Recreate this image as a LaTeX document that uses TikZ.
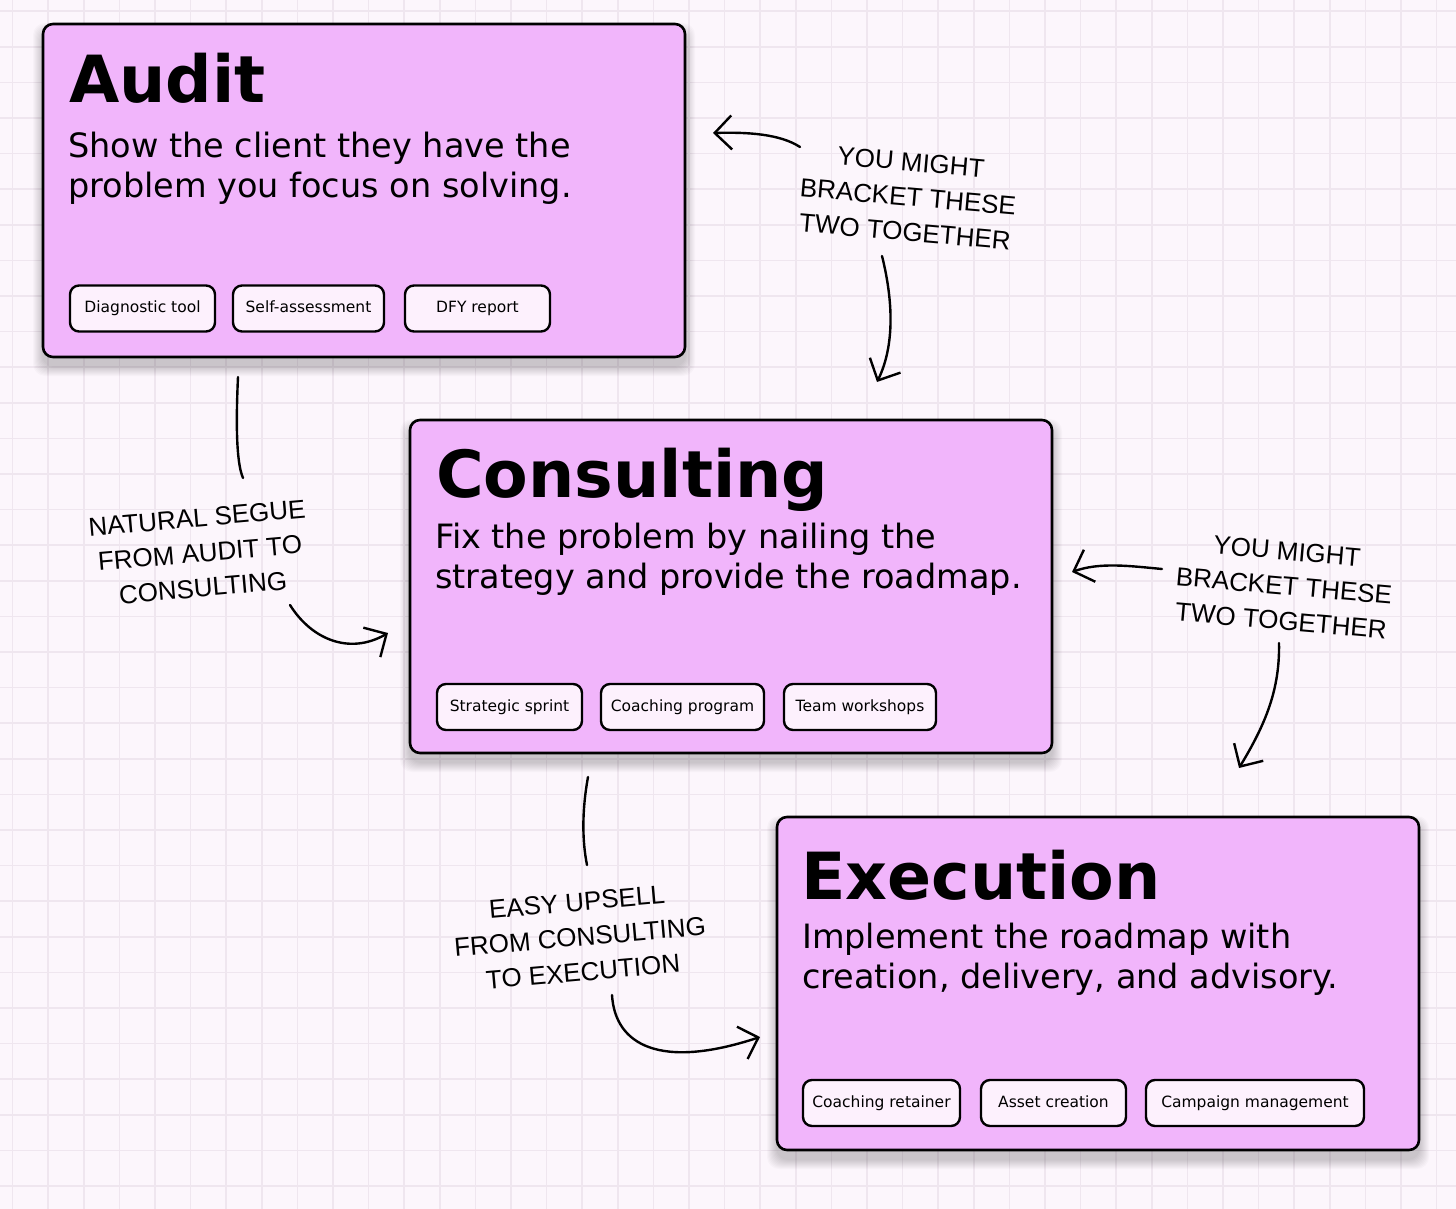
\documentclass[tikz,border=0pt]{standalone}
\usepackage{fontspec}
\setmainfont{DejaVu Sans}
\newfontfamily\notefont{Liberation Sans}
\usetikzlibrary{arrows.meta}
\definecolor{paper}{HTML}{FCF6FC}
\definecolor{gridline}{HTML}{EFE6EF}
\definecolor{cardpink}{HTML}{F1B5FB}
\definecolor{pillpink}{HTML}{FDF1FD}

\begin{document}
\begin{tikzpicture}[x=1pt,y=-1pt]
\tikzstyle{card}=[rectangle,draw=black,line width=2.6pt,rounded corners=10pt,fill=cardpink,minimum width=642pt,minimum height=333pt]
\tikzstyle{heading}=[anchor=base west,inner sep=0pt,font=\bfseries\fontsize{65}{65}\selectfont]
\tikzstyle{blurb}=[anchor=north west,inner sep=0pt,align=left,font=\fontsize{33.5}{40}\selectfont]
\tikzstyle{pill}=[rectangle,draw=black,line width=2.4pt,rounded corners=9pt,fill=pillpink,minimum height=46pt,text height=11.5pt,text depth=3pt,font=\fontsize{15.5}{18}\selectfont]
\tikzstyle{note}=[align=center,inner sep=0pt,font=\notefont\fontsize{26}{35}\selectfont]
\tikzstyle{hand}=[line width=2.4pt,line cap=round,line join=round]
\tikzstyle{barb}=[hand,-{Straight Barb[length=17pt,width=34pt]}]
\useasboundingbox (0,0) rectangle (1456,1209);
\fill[paper] (0,0) rectangle (1456,1209);
\foreach \i in {0,...,40} \draw[gridline,line width=1.6pt] (12.6+35.6*\i,0) -- ++(0,1209);
\foreach \j in {0,...,33} \draw[gridline,line width=1.6pt] (0,11.2+35.6*\j) -- ++(1456,0);
\foreach \cx/\cy in {364/190.5,731/586.5,1098/983.5}
  \foreach \k in {1,...,10}
    \fill[black,opacity=0.018,rounded corners=12pt] (\cx-321-\k,\cy-166.5-\k+9) rectangle (\cx+321+\k,\cy+166.5+\k+9);
\node [card] (audit) at (364,190.5) {};
\node [card] (consulting) at (731,586.5) {};
\node [card] (execution) at (1098,983.5) {};
\node [heading] (audithead) at (69,103) {Audit};
\node [heading] (consultinghead) at (436,497) {Consulting};
\node [heading] (executionhead) at (801,899) {Execution};
\node [blurb] (auditblurb) at (68,131.5) {Show the client they have the\\problem you focus on solving.};
\node [blurb] (consultingblurb) at (435,523) {Fix the problem by nailing the\\strategy and provide the roadmap.};
\node [blurb] (executionblurb) at (802,923) {Implement the roadmap with\\creation, delivery, and advisory.};
\node [pill,minimum width=145pt] (diag) at (142.5,308.5) {Diagnostic tool};
\node [pill,minimum width=151pt] (self) at (308.5,308.5) {Self-assessment};
\node [pill,minimum width=145pt] (dfy) at (477.5,308.5) {DFY report};
\node [pill,minimum width=145pt] (sprint) at (509.5,707) {Strategic sprint};
\node [pill,minimum width=163pt] (program) at (682.5,707) {Coaching program};
\node [pill,minimum width=152pt] (workshops) at (860,707) {Team workshops};
\node [pill,minimum width=157pt] (retainer) at (881.5,1103) {Coaching retainer};
\node [pill,minimum width=145pt] (asset) at (1053.5,1103) {Asset creation};
\node [pill,minimum width=218pt] (campaign) at (1255,1103) {Campaign management};
\node [note,rotate=-5] (bracketone) at (908,197) {YOU MIGHT\\BRACKET THESE\\TWO TOGETHER};
\node [note,rotate=5] (segue) at (200,553) {NATURAL SEGUE\\FROM AUDIT TO\\CONSULTING};
\node [note,rotate=5] (upsell) at (580,937) {EASY UPSELL\\FROM CONSULTING\\TO EXECUTION};
\node [note,rotate=-5] (brackettwo) at (1284,586) {YOU MIGHT\\BRACKET THESE\\TWO TOGETHER};
\coordinate (bracketoneleft) at (800,147);
\coordinate (bracketonetip) at (713,133);
\coordinate (bracketonedown) at (882,256);
\coordinate (bracketonelow) at (877,382);
\coordinate (seguetop) at (238,377);
\coordinate (seguebot) at (243,478);
\coordinate (segueout) at (290,605);
\coordinate (seguetip) at (388,633);
\coordinate (upselltop) at (588,777);
\coordinate (upsellbot) at (587,865);
\coordinate (upsellout) at (612,995);
\coordinate (upselltip) at (760,1037);
\coordinate (brackettwoleft) at (1162,569);
\coordinate (brackettwotip) at (1072,572);
\coordinate (brackettwodown) at (1279,643);
\coordinate (brackettwolow) at (1239,768);
\draw [barb] (bracketoneleft) .. controls (780,134) and (748,132) .. (bracketonetip);
\draw [barb] (bracketonedown) .. controls (893,300) and (895,345) .. (bracketonelow);
\draw [hand] (seguetop) .. controls (236,420) and (236,462) .. (seguebot);
\draw [barb] (segueout) .. controls (312,640) and (350,655) .. (seguetip);
\draw [hand] (upselltop) .. controls (582,810) and (582,840) .. (upsellbot);
\draw [barb] (upsellout) .. controls (615,1045) and (660,1070) .. (upselltip);
\draw [barb] (brackettwoleft) .. controls (1130,566) and (1100,562) .. (brackettwotip);
\draw [barb] (brackettwodown) .. controls (1280,690) and (1265,725) .. (brackettwolow);
\end{tikzpicture}
\end{document}
